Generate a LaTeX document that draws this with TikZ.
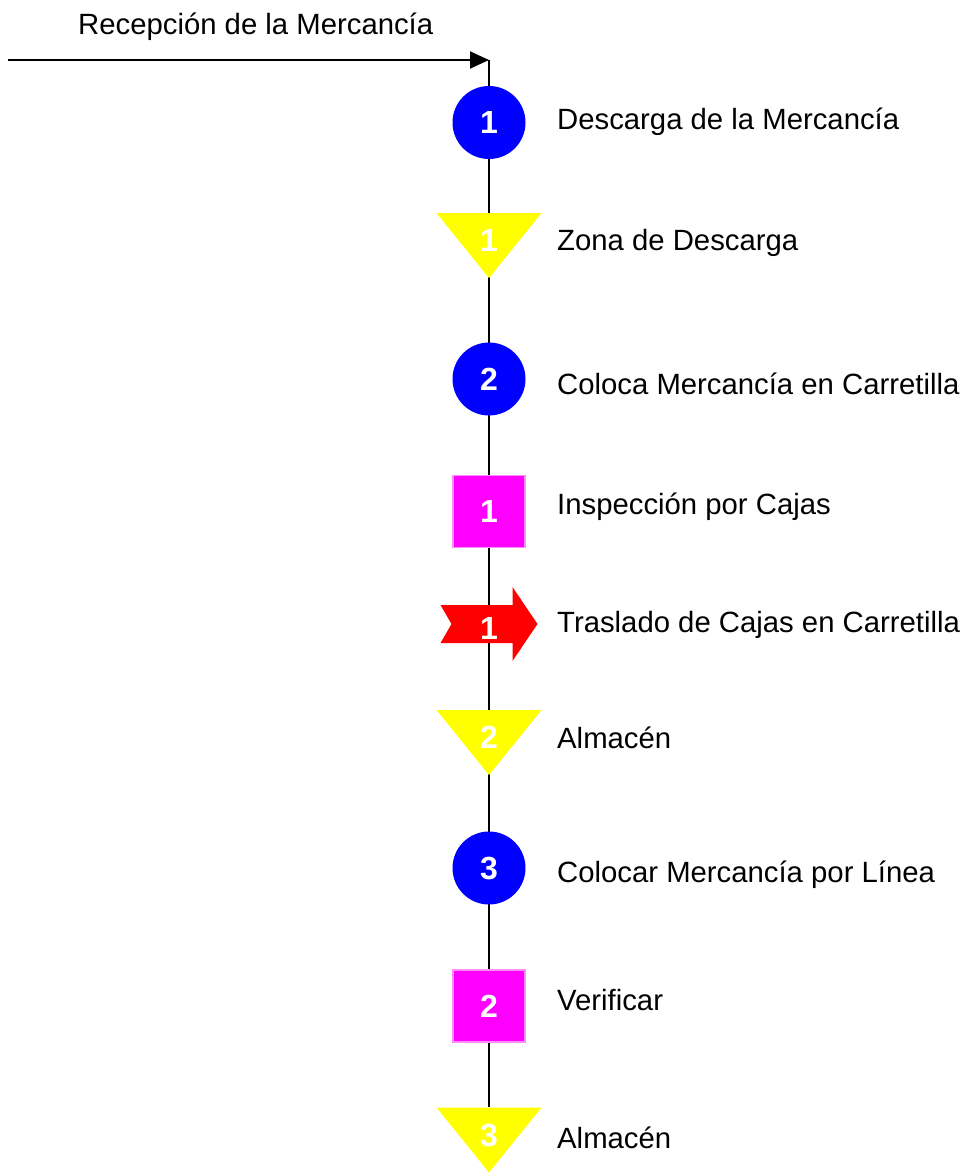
\documentclass[tikz,border=0pt]{standalone}
\usepackage{fontspec}
\setmainfont{Liberation Sans}
\usetikzlibrary{arrows.meta,backgrounds}
\definecolor{cblue}{RGB}{0,0,255}
\definecolor{cyellow}{RGB}{255,255,0}
\definecolor{cmag}{RGB}{255,0,255}
\definecolor{cmagb}{RGB}{255,140,255}
\definecolor{cred}{RGB}{255,0,0}
\tikzset{
  lbl/.style={anchor=base west, inner sep=0pt, font=\fontsize{29.3}{34}\selectfont},
  num/.style={text=white, font=\fontsize{32}{36}\selectfont\bfseries},
  opcircle/.style={circle, fill=cblue, minimum size=73pt, inner sep=0pt, num},
  storetri/.style={rectangle, minimum width=105pt, minimum height=65pt, inner sep=0pt,
    path picture={\fill[cyellow] (path picture bounding box.north west) -- (path picture bounding box.north east) -- (path picture bounding box.south) -- cycle;}},
  inspbox/.style={rectangle, fill=cmag, draw=cmagb, line width=1.5pt, minimum size=72pt, inner sep=0pt, num},
  transarrow/.style={rectangle, minimum width=97pt, minimum height=74pt, inner sep=0pt,
    path picture={\fill[cred] ([shift={(-48.5pt,-19pt)}]path picture bounding box.center) -- ++(72pt,0) -- ++(0,-18pt) -- ++(25pt,37pt) -- ++(-25pt,37pt) -- ++(0,-18pt) -- ++(-72pt,0) -- ++(11pt,-19pt) -- cycle;}},
  flow/.style={line width=1.8pt, black},
}
\begin{document}
\begin{tikzpicture}[x=1pt,y=-1pt]
\useasboundingbox (0,0) rectangle (966,1173);
\node[lbl] (title) at (78,34) {Recepción de la Mercancía};
\coordinate (in) at (8,60);
\coordinate (top) at (489,60);

\node[opcircle] (c1) at (489,122.5) {1};
\node[storetri, label={[num,yshift=5pt]center:1}] (t1) at (489,245.5) {};
\node[opcircle] (c2) at (489,379) {2};
\node[inspbox] (s1) at (489,511.5) {1};
\node[transarrow, label={[num,yshift=-4pt]center:1}] (a1) at (489,624) {};
\node[storetri, label={[num,yshift=5pt]center:2}] (t2) at (489,742.5) {};
\node[opcircle] (c3) at (489,868) {3};
\node[inspbox] (s2) at (489,1006) {2};
\node[storetri, label={[num,yshift=5pt]center:3}] (t3) at (489,1140) {};

\node[lbl] (l1) at (557,129) {Descarga de la Mercancía};
\node[lbl] (l2) at (557,250) {Zona de Descarga};
\node[lbl] (l3) at (557,394) {Coloca Mercancía en Carretilla};
\node[lbl] (l4) at (557,514) {Inspección por Cajas};
\node[lbl] (l5) at (557,632) {Traslado de Cajas en Carretilla};
\node[lbl] (l6) at (557,748) {Almacén};
\node[lbl] (l7) at (557,882) {Colocar Mercancía por Línea};
\node[lbl] (l8) at (557,1010) {Verificar};
\node[lbl] (l9) at (557,1148) {Almacén};

\draw[flow, -{Triangle[length=19pt,width=17pt]}] (in) -- (top);
\begin{pgfonlayer}{background}
\draw[flow] (top) -- (c1.center) -- (t1.center) -- (c2.center) -- (s1.center) -- (a1.center) -- (t2.center) -- (c3.center) -- (s2.center) -- (t3.north);
\end{pgfonlayer}
\end{tikzpicture}
\end{document}
